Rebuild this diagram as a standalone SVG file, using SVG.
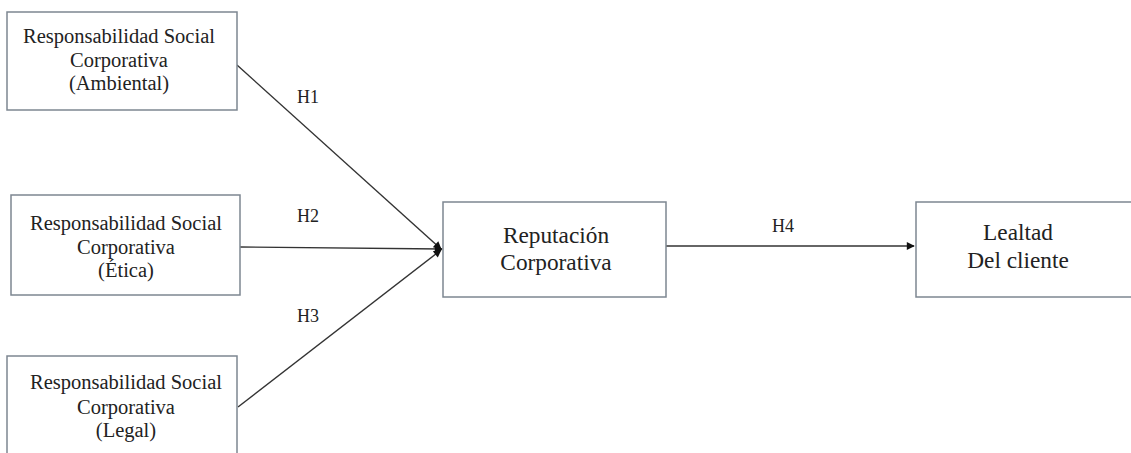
<svg xmlns="http://www.w3.org/2000/svg" width="1131" height="453" viewBox="0 0 1131 453">
<style>
.box{fill:#fff;stroke:#7d8791;stroke-width:1.5}
.t{font-family:"Liberation Serif","Times New Roman",serif;fill:#222;text-anchor:middle}
.s{font-size:20.5px}
.b{font-size:23.3px}
.h{font-size:18px}
.c{stroke:#333;stroke-width:1.4;fill:none}
</style>
<defs>
<marker id="ah" viewBox="0 0 10 10" refX="9" refY="5" markerWidth="9" markerHeight="8" markerUnits="userSpaceOnUse" orient="auto">
<path d="M0,0 L10,5 L0,10 z" fill="#111"/>
</marker>
</defs>
<rect width="1131" height="453" fill="#fff"/>
<g id="connectors">
<line class="c" x1="237" y1="65" x2="441" y2="249" marker-end="url(#ah)"/>
<line class="c" x1="240" y1="247" x2="442" y2="249" marker-end="url(#ah)"/>
<line class="c" x1="238" y1="407" x2="441" y2="250" marker-end="url(#ah)"/>
<line class="c" x1="666" y1="246" x2="914" y2="246" marker-end="url(#ah)"/>
<text class="t h" x="308" y="103">H1</text>
<text class="t h" x="308" y="222">H2</text>
<text class="t h" x="308" y="322">H3</text>
<text class="t h" x="783" y="232">H4</text>
</g>
<g id="rsc-ambiental">
<rect class="box" x="7" y="12" width="230" height="98"/>
<text class="t s" x="119" y="43">Responsabilidad Social</text>
<text class="t s" x="119" y="67">Corporativa</text>
<text class="t s" x="119" y="90">(Ambiental)</text>
</g>
<g id="rsc-etica">
<rect class="box" x="11" y="195" width="229" height="100"/>
<text class="t s" x="126" y="230">Responsabilidad Social</text>
<text class="t s" x="126" y="254">Corporativa</text>
<text class="t s" x="126" y="277">(Ética)</text>
</g>
<g id="rsc-legal">
<rect class="box" x="7" y="356" width="230" height="110"/>
<text class="t s" x="126" y="389">Responsabilidad Social</text>
<text class="t s" x="126" y="414">Corporativa</text>
<text class="t s" x="126" y="437">(Legal)</text>
</g>
<g id="reputacion">
<rect class="box" x="443" y="202" width="223" height="95"/>
<text class="t b" x="556" y="243">Reputación</text>
<text class="t b" x="556" y="270">Corporativa</text>
</g>
<g id="lealtad">
<rect class="box" x="916" y="202" width="220" height="95"/>
<text class="t b" x="1018" y="240">Lealtad</text>
<text class="t b" x="1018" y="268">Del cliente</text>
</g>
</svg>
